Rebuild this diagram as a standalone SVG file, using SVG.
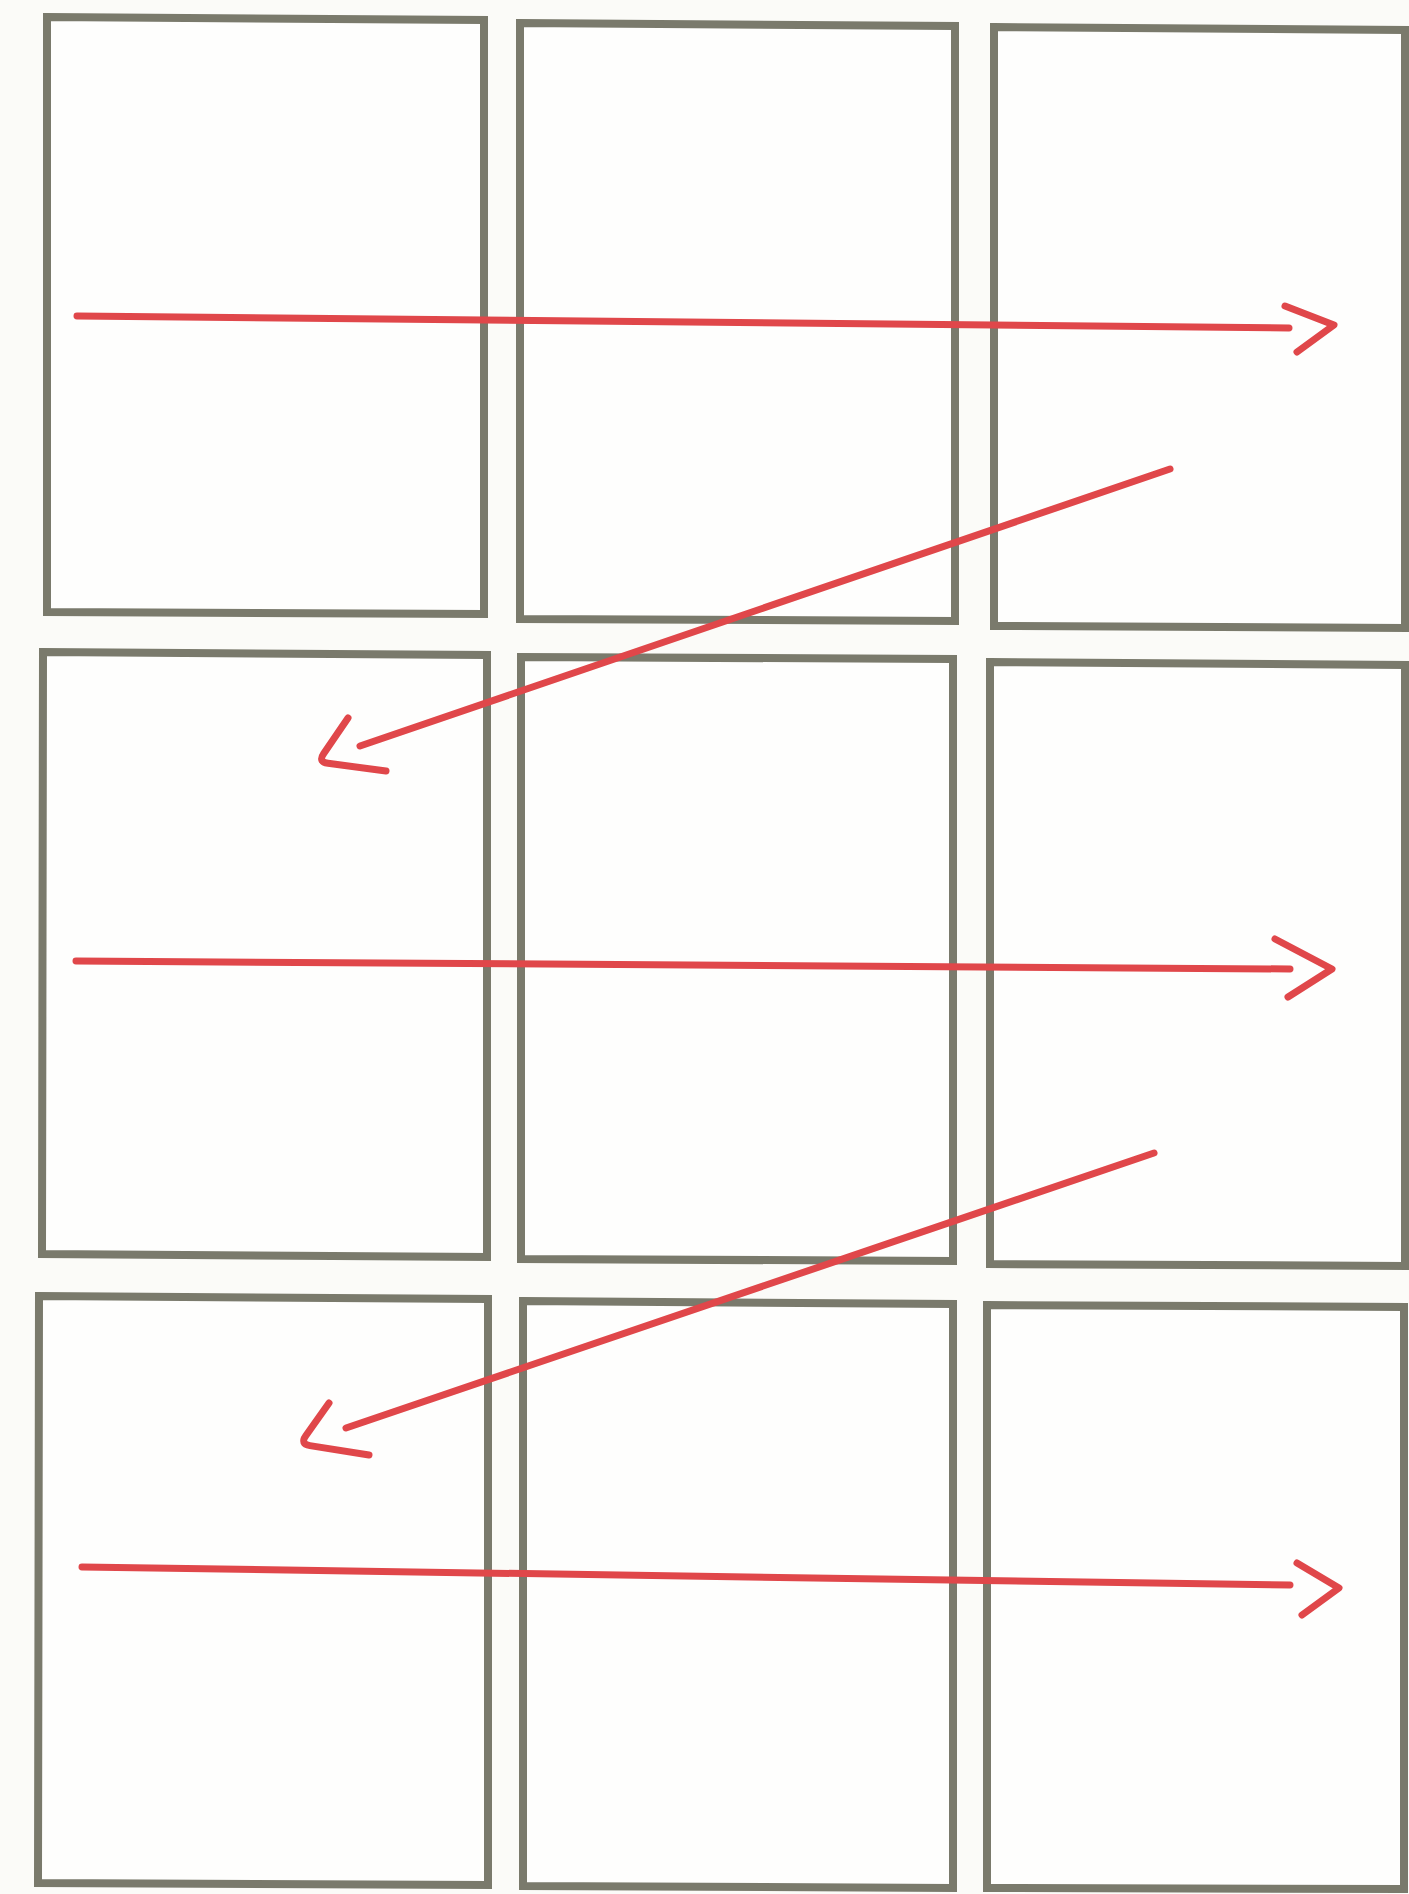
<svg xmlns="http://www.w3.org/2000/svg" width="1409" height="1894" viewBox="0 0 1409 1894">
  <style>
    .box { fill: #fefefd; stroke: #7a7a6c; stroke-width: 8; stroke-linejoin: miter; }
    .arr { fill: none; stroke: #e0474a; stroke-width: 7; stroke-linecap: round; stroke-linejoin: round; }
  </style>
  <rect x="0" y="0" width="1409" height="1894" fill="#fbfbf8"/>
  <g id="nodes">
    <g id="r1c1"><path class="box" d="M47 17 L484 20 L484 614 L47 612 Z"/></g>
    <g id="r1c2"><path class="box" d="M520 23 L955 26 L955 621 L520 619 Z"/></g>
    <g id="r1c3"><path class="box" d="M994 27 L1405 30 L1405 628 L994 626 Z"/></g>
    <g id="r2c1"><path class="box" d="M43 652 L487 655 L487 1257 L42 1254 Z"/></g>
    <g id="r2c2"><path class="box" d="M521 657 L953 659 L953 1261 L521 1259 Z"/></g>
    <g id="r2c3"><path class="box" d="M990 662 L1405 665 L1405 1266 L990 1264 Z"/></g>
    <g id="r3c1"><path class="box" d="M39 1296 L488 1299 L488 1885 L38 1883 Z"/></g>
    <g id="r3c2"><path class="box" d="M523 1301 L953 1304 L953 1888 L523 1886 Z"/></g>
    <g id="r3c3"><path class="box" d="M987 1305 L1404 1307 L1404 1889 L987 1888 Z"/></g>
  </g>
  <g id="connectors">
    <g id="a1"><line class="arr" x1="77" y1="316" x2="1289" y2="328"/><polyline class="arr" points="1285,306 1334,325 1297,352"/></g>
    <g id="a2"><line class="arr" x1="1170" y1="469" x2="360" y2="746"/><path class="arr" d="M348 718 L323.6 753.7 Q318 762 328 763.3 L386 771"/></g>
    <g id="a3"><line class="arr" x1="76" y1="961" x2="1290" y2="969"/><polyline class="arr" points="1275,939 1332,969 1288,997"/></g>
    <g id="a4"><line class="arr" x1="1154" y1="1153" x2="346" y2="1428"/><path class="arr" d="M329 1403 L305.8 1435.8 Q300 1444 309.9 1445.6 L369 1455"/></g>
    <g id="a5"><line class="arr" x1="82" y1="1567" x2="1290" y2="1585"/><polyline class="arr" points="1297,1563 1339,1588 1302,1615"/></g>
  </g>
</svg>
